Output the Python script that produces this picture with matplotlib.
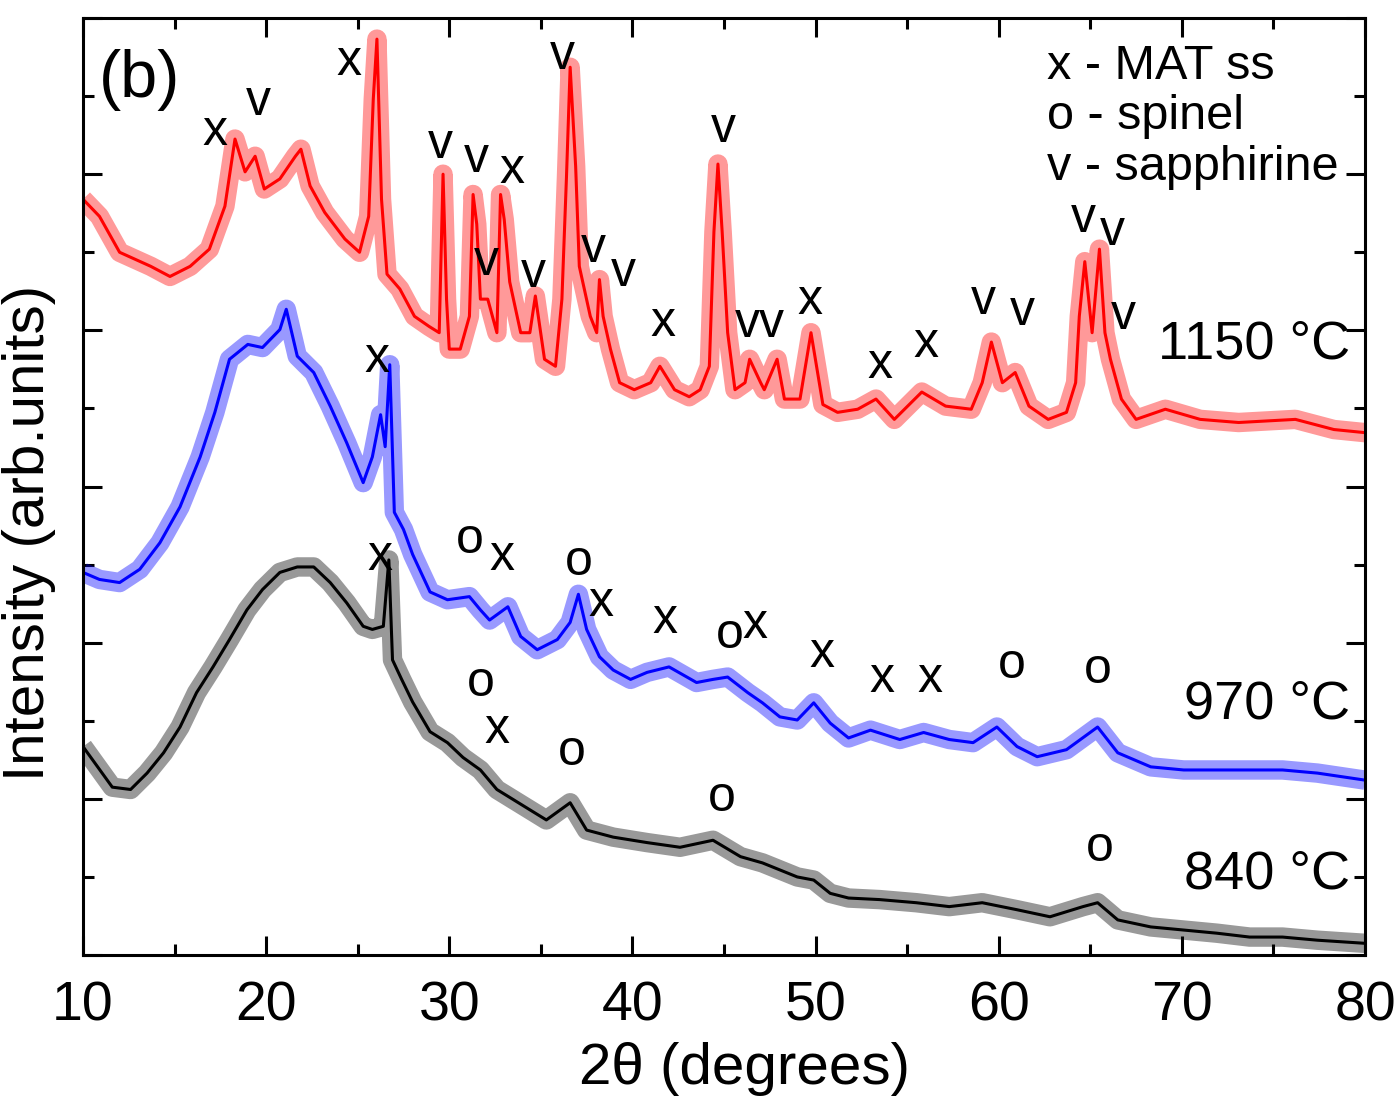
import matplotlib.pyplot as plt
from matplotlib.ticker import MultipleLocator

plt.rcParams['font.family'] = ['Liberation Sans', 'DejaVu Sans']

# 1150 C pattern (2theta, intensity in arb. units, offset included)
tt_1150 = [10.0, 10.9, 12.0, 13.7, 14.75, 15.85, 16.9, 17.75, 18.3, 18.85, 19.4, 19.9,
           20.75, 21.6, 21.9, 22.4, 23.2, 24.3, 25.1, 25.6, 25.85, 26.05, 26.3, 26.6,
           27.3, 28.1, 28.9, 29.45, 29.66, 29.85, 30.0, 30.6, 31.1, 31.3, 31.5, 31.7,
           32.1, 32.6, 32.8, 33.0, 33.3, 33.9, 34.4, 34.7, 35.2, 35.8, 36.15, 36.4,
           36.6, 36.9, 37.1, 37.7, 38.05, 38.2, 38.4, 38.8, 39.3, 40.1, 41.0, 41.5,
           42.3, 43.1, 43.7, 44.2, 44.45, 44.67, 44.9, 45.2, 45.6, 46.15, 46.4, 47.0,
           47.2, 47.9, 48.3, 49.15, 49.75, 50.4, 51.2, 52.3, 53.3, 54.3, 55.8, 57.1,
           58.5, 59.1, 59.6, 60.2, 60.9, 61.65, 62.7, 63.7, 64.2, 64.4, 64.7, 65.1,
           65.5, 65.8, 66.1, 66.7, 67.5, 69.1, 71.0, 73.1, 76.2, 78.3, 80.0]
int_1150 = [9.68, 9.46, 9.00, 8.82, 8.69, 8.82, 9.04, 9.59, 10.45, 10.03, 10.23, 9.81,
            9.94, 10.23, 10.32, 9.85, 9.51, 9.17, 9.00, 9.46, 10.96, 11.73, 9.68, 8.72,
            8.53, 8.18, 8.05, 7.97, 10.00, 8.40, 7.76, 7.76, 8.18, 9.74, 9.36, 8.40,
            8.40, 7.97, 9.74, 9.42, 8.62, 7.97, 7.97, 8.44, 7.63, 7.54, 8.40, 9.97,
            11.37, 10.10, 8.82, 8.18, 7.97, 8.65, 8.18, 7.76, 7.33, 7.24, 7.33, 7.54,
            7.24, 7.15, 7.24, 7.54, 9.26, 10.13, 9.26, 7.97, 7.24, 7.33, 7.63, 7.33,
            7.24, 7.63, 7.12, 7.12, 7.97, 7.05, 6.95, 6.99, 7.12, 6.86, 7.21, 7.03,
            6.99, 7.33, 7.85, 7.33, 7.46, 7.03, 6.86, 6.95, 7.33, 8.18, 8.88, 7.97,
            9.04, 7.97, 7.63, 7.12, 6.86, 6.99, 6.86, 6.82, 6.86, 6.73, 6.69]

# 970 C pattern
tt_970 = [10.0, 10.9, 12.0, 13.1, 14.2, 15.3, 16.4, 17.2, 18.0, 19.0, 19.8, 20.75,
          21.1, 21.7, 22.6, 23.5, 24.4, 25.3, 25.8, 26.25, 26.5, 26.75, 27.0, 27.5,
          28.0, 28.95, 29.9, 31.1, 31.7, 32.2, 33.2, 33.9, 34.8, 35.9, 36.6, 37.05,
          37.5, 38.2, 38.95, 39.9, 40.8, 42.0, 43.5, 44.4, 45.2, 46.3, 47.1, 48.05,
          49.0, 49.9, 50.8, 51.8, 53.0, 54.6, 55.9, 57.3, 58.6, 59.9, 61.0, 62.1,
          63.7, 65.4, 66.5, 68.3, 70.1, 71.9, 73.7, 75.5, 77.4, 80.0]
int_970 = [4.90, 4.81, 4.77, 4.94, 5.28, 5.74, 6.38, 6.95, 7.63, 7.82, 7.78, 8.01,
           8.27, 7.67, 7.46, 7.03, 6.56, 6.05, 6.38, 6.92, 6.51, 7.56, 5.67, 5.45,
           5.13, 4.65, 4.55, 4.59, 4.42, 4.29, 4.46, 4.08, 3.91, 4.04, 4.26, 4.62,
           4.17, 3.82, 3.65, 3.53, 3.62, 3.69, 3.49, 3.53, 3.56, 3.36, 3.23, 3.05,
           3.01, 3.23, 2.97, 2.78, 2.88, 2.76, 2.85, 2.76, 2.72, 2.92, 2.67, 2.54,
           2.63, 2.92, 2.59, 2.41, 2.37, 2.37, 2.37, 2.37, 2.33, 2.24]

# 840 C pattern
tt_840 = [10.0, 10.8, 11.6, 12.6, 13.5, 14.4, 15.3, 16.2, 17.1, 18.0, 18.95, 19.8,
          20.75, 21.7, 22.6, 23.5, 24.4, 25.3, 25.8, 26.4, 26.7, 26.9, 27.4, 28.0,
          28.95, 29.9, 30.75, 31.7, 32.6, 33.5, 34.4, 35.3, 36.6, 37.5, 38.95, 40.8,
          42.6, 44.4, 45.9, 47.1, 49.0, 49.9, 50.8, 51.8, 53.5, 55.5, 57.3, 59.1,
          61.0, 62.8, 64.6, 65.4, 66.5, 68.3, 70.1, 71.9, 73.7, 75.5, 77.4, 80.0]
int_840 = [2.67, 2.41, 2.15, 2.12, 2.33, 2.59, 2.92, 3.36, 3.69, 4.04, 4.42, 4.68,
           4.90, 4.97, 4.97, 4.77, 4.51, 4.21, 4.17, 4.21, 5.06, 3.78, 3.53, 3.24,
           2.86, 2.72, 2.53, 2.37, 2.12, 1.99, 1.86, 1.73, 1.95, 1.60, 1.51, 1.44,
           1.38, 1.47, 1.26, 1.18, 1.00, 0.96, 0.79, 0.73, 0.71, 0.67, 0.62, 0.67,
           0.58, 0.49, 0.62, 0.67, 0.45, 0.36, 0.32, 0.28, 0.23, 0.23, 0.19, 0.15]

# phase marks: (symbol, 2theta, height)
marks_1150 = [('x', 17.2, 10.54), ('v', 19.55, 10.92), ('x', 24.5, 11.44),
              ('v', 29.5, 10.38), ('v', 31.5, 10.19), ('x', 33.4, 10.06),
              ('v', 32.05, 8.87), ('v', 34.57, 8.72), ('v', 36.2, 11.51),
              ('v', 37.85, 9.04), ('v', 39.5, 8.74), ('x', 41.67, 8.10),
              ('v', 44.95, 10.58), ('v', 46.3, 8.08), ('v', 47.6, 8.08),
              ('x', 49.7, 8.37), ('x', 53.5, 7.56), ('x', 56.0, 7.82),
              ('v', 59.15, 8.37), ('v', 61.3, 8.23), ('v', 64.6, 9.42),
              ('v', 66.2, 9.26), ('v', 66.8, 8.18)]
marks_970 = [('x', 26.05, 7.63), ('o', 31.1, 5.32), ('x', 32.9, 5.10),
             ('o', 37.1, 5.03), ('x', 38.3, 4.51), ('x', 41.8, 4.29),
             ('o', 45.3, 4.10), ('x', 46.7, 4.23), ('x', 50.35, 3.85),
             ('x', 53.6, 3.53), ('x', 56.25, 3.53), ('o', 60.7, 3.72),
             ('o', 65.4, 3.65)]
marks_840 = [('x', 26.2, 5.10), ('o', 31.7, 3.49), ('x', 32.6, 2.88),
             ('o', 36.7, 2.60), ('o', 44.9, 2.01), ('o', 65.5, 1.37)]

legend_lines = ['x - MAT ss', 'o - spinel', 'v - sapphirine']
temps = ['1150 \u00b0C', '970 \u00b0C', '840 \u00b0C']
temp_y = [7.82, 3.21, 1.03]

fig = plt.figure(figsize=(13.97, 11.06), dpi=100)
ax = fig.add_axes([0.0594, 0.1365, 0.9177, 0.8472])

# noisy scans: a wide pale band for the scatter plus the centre line
for tt, inten, col in [(tt_1150, int_1150, 'red'), (tt_970, int_970, 'blue'),
                       (tt_840, int_840, 'black')]:
    ax.plot(tt, inten, color=col, lw=14, alpha=0.4, solid_joinstyle='round',
            solid_capstyle='butt')
    ax.plot(tt, inten, color=col, lw=2.2)

for marks in (marks_1150, marks_970, marks_840):
    for sym, x, y in marks:
        ax.text(x, y, sym, fontsize=36, ha='center', va='center')

for i, line in enumerate(legend_lines):
    ax.text(0.752, 0.948 - i * 0.0535, line, transform=ax.transAxes,
            fontsize=35, ha='left', va='center')

for t, y in zip(temps, temp_y):
    ax.text(79.2, y, t, fontsize=39, ha='right', va='center')

ax.text(13.1, 11.2, '(b)', fontsize=48, ha='center', va='center')

ax.set_xlim(10, 80)
ax.set_ylim(0, 12)
ax.xaxis.set_major_locator(MultipleLocator(10))
ax.xaxis.set_minor_locator(MultipleLocator(5))
ax.yaxis.set_major_locator(MultipleLocator(2))
ax.yaxis.set_minor_locator(MultipleLocator(1))
ax.tick_params(which='both', direction='in', top=True, right=True, width=2.2,
               labelsize=40, labelleft=False, pad=18)
ax.tick_params(which='major', length=14)
ax.tick_params(which='minor', length=8)
for s in ax.spines.values():
    s.set_linewidth(2.2)

ax.set_xlabel('2\u03b8 (degrees)', fontsize=42)
ax.set_ylabel('Intensity (arb.units)', fontsize=42)
ax.xaxis.set_label_coords(0.516, -0.093)
ax.yaxis.set_label_coords(-0.021, 0.451)

fig.savefig('out.png', dpi=100)
